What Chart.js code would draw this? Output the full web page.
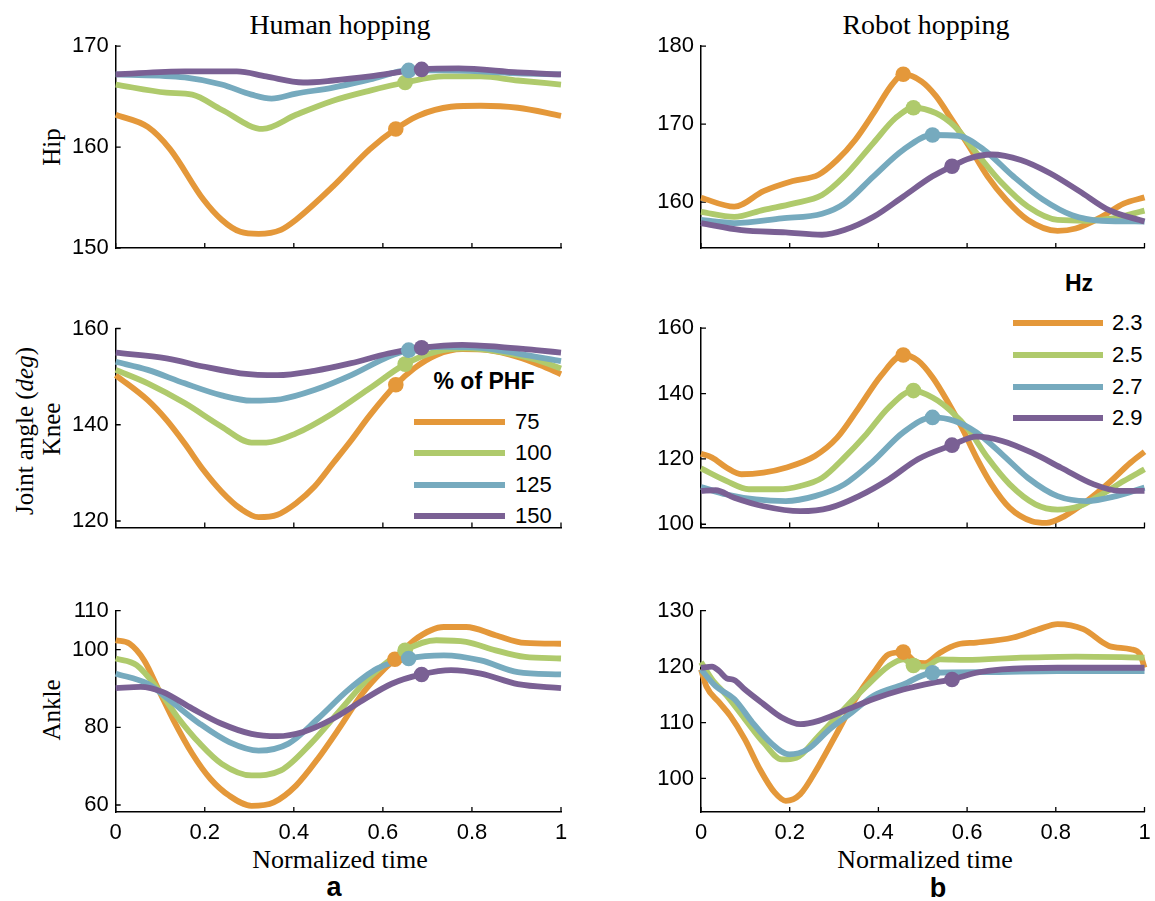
<!DOCTYPE html>
<html><head><meta charset="utf-8">
<script src="https://cdn.jsdelivr.net/npm/chart.js@4.4.1/dist/chart.umd.min.js"></script>
<style>
body{margin:0;background:#fff;width:1155px;height:901px;position:relative;overflow:hidden}
canvas{position:absolute}
.t{position:absolute;transform:translate(-50%,-50%);white-space:nowrap;font-family:"Liberation Serif","DejaVu Serif",serif;color:#000;line-height:1}
.r{transform:translate(-50%,-50%) rotate(-90deg)}
.s{position:absolute;transform:translate(0,-50%);white-space:nowrap;font-family:"Liberation Sans",Arial,sans-serif;font-size:22px;color:#000;line-height:1}
.b{font-family:"Liberation Sans",Arial,sans-serif;font-weight:bold}
.ln{position:absolute;height:6px}
</style>
</head><body>
<div class="t" style="left:340px;top:25px;font-size:28px">Human hopping</div>
<div class="t" style="left:926px;top:25px;font-size:28px">Robot hopping</div>
<div class="t r" style="left:51px;top:147px;font-size:25px">Hip</div>
<div class="t r" style="left:24px;top:431px;font-size:25px">Joint angle (<i>deg</i>)</div>
<div class="t r" style="left:51px;top:429px;font-size:25px">Knee</div>
<div class="t r" style="left:51px;top:710px;font-size:25px">Ankle</div>
<div class="t" style="left:340px;top:860px;font-size:26px">Normalized time</div>
<div class="t" style="left:925px;top:860px;font-size:26px">Normalized time</div>
<div class="t b" style="left:334px;top:887px;font-size:27px">a</div>
<div class="t b" style="left:938px;top:888px;font-size:27px">b</div>
<div id="legends"></div>
<script>
// ---- categories / labels ----
const xTicks = [0, 0.2, 0.4, 0.6, 0.8, 1];
const humanLabels = ['75', '100', '125', '150'];
const robotLabels = ['2.3', '2.5', '2.7', '2.9'];
const seriesColors = ['#E4983A', '#AFCA6C', '#76AABE', '#7A6094'];

// ---- y ticks ----
const hipHumanTicks = [150, 160, 170];
const hipRobotTicks = [160, 170, 180];
const kneeHumanTicks = [120, 140, 160];
const kneeRobotTicks = [100, 120, 140, 160];
const ankleHumanTicks = [60, 80, 100, 110];
const ankleRobotTicks = [100, 110, 120, 130];

// ---- Human hip ----
const hipH75 = [[0,163.2],[0.072,162.0],[0.122,159.8],[0.197,154.8],[0.238,152.8],[0.28,151.6],[0.321,151.4],[0.371,151.8],[0.405,152.8],[0.488,156.1],[0.571,159.8],[0.629,161.8],[0.679,163.1],[0.753,164.0],[0.82,164.1],[0.903,163.9],[1,163.1]];
const hipH100 = [[0,166.2],[0.114,165.4],[0.172,165.2],[0.238,163.7],[0.33,161.8],[0.405,163.2],[0.488,164.6],[0.571,165.6],[0.65,166.4],[0.737,167.0],[0.82,167.0],[0.903,166.6],[1,166.2]];
const hipH125 = [[0,167.2],[0.155,166.9],[0.238,166.2],[0.305,165.2],[0.35,164.8],[0.405,165.3],[0.488,165.9],[0.571,166.7],[0.658,167.6],[0.737,167.6],[0.82,167.5],[0.903,167.3],[1,167.2]];
const hipH150 = [[0,167.2],[0.155,167.5],[0.272,167.5],[0.338,167.0],[0.421,166.4],[0.488,166.6],[0.571,167.0],[0.687,167.7],[0.77,167.8],[0.903,167.4],[1,167.2]];
const hipHMarks = [[0.629,161.8],[0.65,166.4],[0.658,167.6],[0.687,167.7]];

// ---- Human knee ----
const kneeH75 = [[0,150.3],[0.072,145.1],[0.114,141.0],[0.155,136.1],[0.197,130.6],[0.238,126.1],[0.28,122.6],[0.321,120.8],[0.363,121.3],[0.405,123.7],[0.446,127.1],[0.488,132.0],[0.529,136.8],[0.571,142.0],[0.629,148.3],[0.67,151.7],[0.72,154.5],[0.778,155.7],[0.836,155.5],[0.903,154.1],[0.953,152.4],[1,150.5]];
const kneeH100 = [[0,151.4],[0.072,148.6],[0.155,144.5],[0.238,139.6],[0.305,136.3],[0.338,136.3],[0.405,138.2],[0.488,142.4],[0.571,147.6],[0.65,152.6],[0.72,155.2],[0.787,155.9],[0.861,155.2],[0.944,153.5],[1,151.7]];
const kneeH125 = [[0,153.1],[0.072,151.4],[0.155,148.6],[0.238,146.1],[0.305,145.0],[0.371,145.3],[0.446,147.2],[0.529,150.3],[0.612,154.1],[0.658,155.5],[0.737,156.2],[0.82,156.0],[0.903,154.8],[1,153.2]];
const kneeH150 = [[0,155.0],[0.114,153.8],[0.197,152.1],[0.28,150.7],[0.363,150.3],[0.446,151.2],[0.529,152.8],[0.612,154.8],[0.687,156.0],[0.778,156.6],[0.861,156.2],[0.944,155.5],[1,155.0]];
const kneeHMarks = [[0.629,148.3],[0.65,152.6],[0.658,155.5],[0.687,156.0]];

// ---- Human ankle ----
const ankleH75 = [[0,102.4],[0.031,101.5],[0.064,97.2],[0.097,89.5],[0.13,81.8],[0.172,73.2],[0.213,66.7],[0.255,62.4],[0.305,59.8],[0.355,60.7],[0.405,65.0],[0.454,71.9],[0.504,80.1],[0.554,88.7],[0.604,95.1],[0.627,97.5],[0.67,102.4],[0.737,105.8],[0.787,105.8],[0.853,103.7],[0.919,101.7],[1,101.5]];
const ankleH100 = [[0,97.7],[0.047,96.0],[0.097,89.5],[0.139,82.6],[0.189,75.8],[0.238,70.6],[0.305,67.6],[0.371,68.9],[0.438,75.8],[0.504,84.4],[0.571,93.0],[0.65,99.8],[0.72,102.4],[0.787,102.0],[0.853,99.8],[0.919,98.1],[1,97.7]];
const ankleH125 = [[0,93.8],[0.072,91.2],[0.122,86.9],[0.189,80.9],[0.255,76.2],[0.321,74.0],[0.388,75.8],[0.454,82.2],[0.521,89.5],[0.587,95.1],[0.658,97.7],[0.737,98.5],[0.82,97.2],[0.903,94.2],[1,93.6]];
const ankleH150 = [[0,90.1],[0.056,90.4],[0.105,89.1],[0.172,84.8],[0.238,80.9],[0.305,78.3],[0.363,77.7],[0.421,78.8],[0.488,82.2],[0.554,86.9],[0.62,91.2],[0.687,93.6],[0.753,94.7],[0.82,93.8],[0.903,91.1],[1,90.1]];
const ankleHMarks = [[0.627,97.5],[0.65,99.8],[0.658,97.7],[0.687,93.6]];

// ---- Robot hip ----
const hipR23 = [[0,160.55],[0.075,159.4],[0.141,161.4],[0.207,162.7],[0.265,163.5],[0.307,165.4],[0.348,168.0],[0.389,171.4],[0.431,175.1],[0.456,176.4],[0.497,175.5],[0.53,173.6],[0.563,170.8],[0.605,167.1],[0.646,163.3],[0.688,160.3],[0.737,157.7],[0.804,156.3],[0.845,156.6],[0.903,158.1],[0.953,159.8],[1,160.6]];
const hipR25 = [[0,158.75],[0.075,158.1],[0.141,159.0],[0.207,159.8],[0.273,160.9],[0.323,163.3],[0.389,167.6],[0.439,170.8],[0.479,172.1],[0.53,171.4],[0.572,169.7],[0.621,166.3],[0.679,162.4],[0.737,159.4],[0.804,157.7],[0.87,157.6],[0.928,157.9],[1,158.9]];
const hipR27 = [[0,157.7],[0.075,157.3],[0.182,157.9],[0.273,158.5],[0.323,159.8],[0.389,163.3],[0.456,166.7],[0.522,168.6],[0.58,168.5],[0.638,166.7],[0.704,163.3],[0.771,160.3],[0.837,158.3],[0.903,157.6],[1,157.5]];
const hipR29 = [[0,157.3],[0.091,156.4],[0.191,156.1],[0.273,155.8],[0.323,156.4],[0.389,158.1],[0.456,160.7],[0.522,163.3],[0.566,164.6],[0.605,165.6],[0.655,166.1],[0.721,165.4],[0.787,163.7],[0.853,161.4],[0.92,158.95],[1,157.5]];
const hipRMarks = [[0.456,176.4],[0.479,172.1],[0.522,168.6],[0.566,164.6]];

// ---- Robot knee ----
const kneeR23 = [[0,121.6],[0.025,120.4],[0.058,117.3],[0.091,115.3],[0.141,115.8],[0.191,117.3],[0.257,120.9],[0.307,126.5],[0.356,135.7],[0.406,145.5],[0.456,151.8],[0.489,150.1],[0.522,145.0],[0.555,137.8],[0.588,129.6],[0.621,120.4],[0.655,112.2],[0.696,105.0],[0.746,100.9],[0.779,100.4],[0.82,102.5],[0.87,107.1],[0.92,112.7],[0.969,118.9],[1,122.2]];
const kneeR25 = [[0,117.1],[0.058,113.2],[0.108,110.7],[0.174,110.7],[0.224,111.7],[0.273,114.2],[0.323,120.4],[0.373,127.6],[0.423,135.7],[0.479,140.9],[0.522,138.8],[0.563,134.7],[0.605,128.6],[0.646,120.4],[0.696,112.2],[0.754,106.1],[0.804,104.5],[0.853,105.5],[0.903,109.1],[0.953,113.2],[1,116.8]];
const kneeR27 = [[0,111.4],[0.058,109.1],[0.124,107.6],[0.191,107.1],[0.257,108.6],[0.323,112.2],[0.389,119.4],[0.456,128.1],[0.522,132.7],[0.572,131.6],[0.621,128.1],[0.679,121.4],[0.737,114.2],[0.804,108.6],[0.87,107.1],[0.936,108.6],[1,111.2]];
const kneeR29 = [[0,110.2],[0.033,110.4],[0.075,108.1],[0.141,105.5],[0.224,104.0],[0.29,105.0],[0.356,108.6],[0.423,113.7],[0.489,119.9],[0.566,124.2],[0.621,126.8],[0.679,125.5],[0.746,121.9],[0.812,117.3],[0.886,112.2],[0.944,110.2],[1,110.2]];
const kneeRMarks = [[0.456,151.8],[0.479,140.9],[0.522,132.7],[0.566,124.2]];

// ---- Robot ankle ----
const ankleR23 = [[0,119.5],[0.012,116.5],[0.041,113.6],[0.066,111.2],[0.099,107.0],[0.133,101.6],[0.166,97.5],[0.191,96.0],[0.224,97.2],[0.265,102.2],[0.307,108.2],[0.348,114.2],[0.389,118.9],[0.423,122.2],[0.456,122.6],[0.481,121.0],[0.505,120.6],[0.539,122.5],[0.58,124.0],[0.621,124.3],[0.704,125.2],[0.762,126.7],[0.804,127.6],[0.862,126.7],[0.92,123.7],[0.969,123.1],[0.99,122.2],[1,119.8]];
const ankleR25 = [[0,120.8],[0.025,117.7],[0.058,114.8],[0.099,110.6],[0.141,106.4],[0.182,103.4],[0.215,103.7],[0.265,107.6],[0.315,111.8],[0.373,116.5],[0.423,120.1],[0.456,121.3],[0.479,120.2],[0.505,120.0],[0.539,121.3],[0.597,121.2],[0.721,121.6],[0.845,121.8],[1,121.6]];
const ankleR27 = [[0,119.5],[0.033,116.5],[0.075,114.2],[0.116,110.0],[0.157,106.4],[0.199,104.3],[0.24,105.2],[0.29,108.8],[0.34,111.8],[0.389,114.8],[0.456,116.8],[0.522,118.9],[0.638,119.0],[0.804,119.2],[1,119.2]];
const ankleR29 = [[0,119.8],[0.025,120.0],[0.041,119.2],[0.058,117.9],[0.075,117.6],[0.099,115.9],[0.141,113.3],[0.182,110.9],[0.224,109.7],[0.265,110.3],[0.323,112.1],[0.389,114.2],[0.456,115.9],[0.522,117.1],[0.566,117.7],[0.621,118.9],[0.679,119.5],[0.804,119.8],[1,119.8]];
const ankleRMarks = [[0.456,122.6],[0.479,120.2],[0.522,118.9],[0.566,117.7]];

// ---------- drawing ----------
const inwardTicks = {
  id: 'inwardTicks',
  beforeDatasetsDraw(chart) {
    const {ctx, chartArea: a, scales: {x, y}} = chart;
    ctx.save();
    ctx.strokeStyle = '#000';
    ctx.lineWidth = 1.3;
    ctx.beginPath();
    x.ticks.forEach(t => { const p = x.getPixelForValue(t.value); ctx.moveTo(p, a.bottom); ctx.lineTo(p, a.bottom - 5); });
    y.ticks.forEach(t => { const p = y.getPixelForValue(t.value); ctx.moveTo(a.left, p); ctx.lineTo(a.left + 5, p); });
    ctx.stroke();
    ctx.restore();
  }
};

function panel(box, yMin, yMax, yTicks, showX, series, marks) {
  const cL = Math.floor(box.l) - 80, cT = Math.floor(box.t) - 20;
  const cR = Math.ceil(box.r) + 20, cB = Math.ceil(box.b) + (showX ? 45 : 30);
  const cv = document.createElement('canvas');
  cv.width = cR - cL; cv.height = cB - cT;
  cv.style.left = cL + 'px'; cv.style.top = cT + 'px';
  cv.style.width = (cR - cL) + 'px'; cv.style.height = (cB - cT) + 'px';
  document.body.appendChild(cv);
  const datasets = [];
  series.forEach((s, i) => {
    datasets.push({
      type: 'line', data: s.map(p => ({x: p[0], y: p[1]})),
      borderColor: seriesColors[i], borderWidth: 5.8, pointRadius: 0,
      cubicInterpolationMode: 'monotone', fill: false, clip: false, order: 10 - i
    });
  });
  marks.forEach((m, i) => {
    datasets.push({
      type: 'scatter', data: [{x: m[0], y: m[1]}], showLine: false,
      pointRadius: 7.8, pointBackgroundColor: seriesColors[i], pointBorderWidth: 0,
      clip: false, order: 4 - i
    });
  });
  const font = {family: '"Liberation Sans", Arial, sans-serif', size: 22};
  new Chart(cv, {
    data: {datasets},
    options: {
      responsive: false, animation: false, devicePixelRatio: 1,
      layout: {padding: {top: box.t - cT, right: cR - box.r, left: 0, bottom: 0}, autoPadding: false},
      plugins: {legend: {display: false}, tooltip: {enabled: false}},
      events: [],
      scales: {
        x: {
          type: 'linear', min: 0, max: 1,
          grid: {display: false, drawTicks: false},
          border: {display: true, color: '#000', width: 1.5},
          ticks: {display: showX, color: '#000', font, padding: 8, autoSkip: false, maxRotation: 0,
                  callback: v => String(Math.round(v * 10) / 10)},
          afterBuildTicks: s => { s.ticks = xTicks.map(v => ({value: v})); },
          afterFit: s => { s.height = cB - box.b; }
        },
        y: {
          type: 'linear', min: yMin, max: yMax,
          grid: {display: false, drawTicks: false},
          border: {display: true, color: '#000', width: 1.5},
          ticks: {color: '#000', font, padding: 7, autoSkip: false},
          afterBuildTicks: s => { s.ticks = yTicks.map(v => ({value: v})); },
          afterFit: s => { s.width = box.l - cL; }
        }
      }
    },
    plugins: [inwardTicks]
  });
}

const L = {l: 115.7, r: 561}, R = {l: 701, r: 1144.5};
panel({...L, t: 46, b: 248}, 150, 170, hipHumanTicks, false, [hipH75, hipH100, hipH125, hipH150], hipHMarks);
panel({...R, t: 46, b: 248}, 154.1, 180, hipRobotTicks, false, [hipR23, hipR25, hipR27, hipR29], hipRMarks);
panel({...L, t: 328.5, b: 527.5}, 118.65, 160, kneeHumanTicks, false, [kneeH75, kneeH100, kneeH125, kneeH150], kneeHMarks);
panel({...R, t: 328, b: 527.5}, 99.0, 160, kneeRobotTicks, false, [kneeR23, kneeR25, kneeR27, kneeR29], kneeRMarks);
panel({...L, t: 610.7, b: 812}, 58.2, 110, ankleHumanTicks, true, [ankleH75, ankleH100, ankleH125, ankleH150], ankleHMarks);
panel({...R, t: 610.7, b: 812}, 94.0, 130, ankleRobotTicks, true, [ankleR23, ankleR25, ankleR27, ankleR29], ankleRMarks);

// ---------- legends ----------
function legend(title, tx, ty, labels, lineL, lineR, labelX, ys) {
  const host = document.getElementById('legends');
  const h = document.createElement('div');
  h.className = 't b'; h.style.left = tx + 'px'; h.style.top = ty + 'px'; h.style.fontSize = '23px';
  h.textContent = title; host.appendChild(h);
  labels.forEach((lab, i) => {
    const ln = document.createElement('div');
    ln.className = 'ln';
    ln.style.left = lineL + 'px'; ln.style.width = (lineR - lineL) + 'px';
    ln.style.top = (ys[i] - 3) + 'px'; ln.style.background = seriesColors[i];
    host.appendChild(ln);
    const tx2 = document.createElement('div');
    tx2.className = 's'; tx2.style.left = labelX + 'px'; tx2.style.top = ys[i] + 'px';
    tx2.textContent = lab; host.appendChild(tx2);
  });
}
legend('% of PHF', 484, 381, humanLabels, 414, 505, 515, [421.7, 453.3, 485, 516]);
legend('Hz', 1079, 283, robotLabels, 1013, 1103, 1112, [323.3, 355.3, 386.7, 417.7]);
</script>
</body></html>
